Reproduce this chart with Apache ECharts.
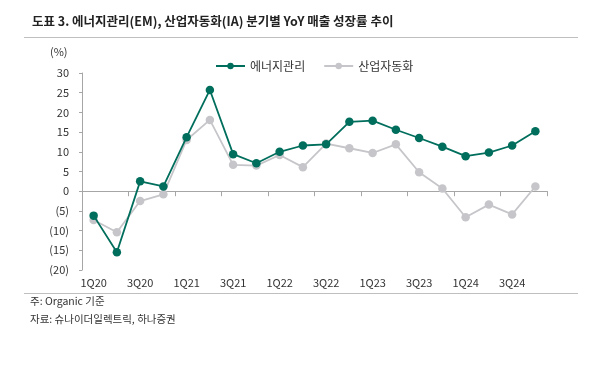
<!DOCTYPE html>
<html>
<head>
<meta charset="utf-8">
<script src="https://cdn.jsdelivr.net/npm/echarts@6/dist/echarts.min.js"></script>
<style>html,body{margin:0;padding:0;background:#fff;}#c{width:607px;height:382px;}</style>
</head>
<body>
<div id="c"></div>
<script>
const titleText = '도표 3. 에너지관리(EM), 산업자동화(IA) 분기별 YoY 매출 성장률 추이';
const noteLines = ['주: Organic 기준', '자료: 슈나이더일렉트릭, 하나증권'];
const unitLabel = '(%)';
const categories = ['1Q20','2Q20','3Q20','4Q20','1Q21','2Q21','3Q21','4Q21','1Q22','2Q22','3Q22','4Q22','1Q23','2Q23','3Q23','4Q23','1Q24','2Q24','3Q24','4Q24'];
const seriesNames = ['에너지관리', '산업자동화'];
const emValues = [-6.2, -15.5, 2.5, 1.2, 13.7, 25.7, 9.4, 7.1, 10.0, 11.6, 11.9, 17.6, 17.9, 15.6, 13.5, 11.3, 8.9, 9.8, 11.6, 15.2];
const iaValues = [-7.3, -10.4, -2.5, -0.8, 13.0, 18.1, 6.7, 6.5, 9.2, 6.1, 12.1, 10.9, 9.7, 11.9, 4.8, 0.7, -6.6, -3.4, -5.9, 1.2];
const yTicks = [-20, -15, -10, -5, 0, 5, 10, 15, 20, 25, 30];

const font = '"Noto Sans CJK KR", "Noto Sans", sans-serif';
const chart = echarts.init(document.getElementById('c'), null, {renderer: 'canvas'});
const fmtY = v => v < 0 ? '(' + Math.abs(v) + ')' : String(v);

chart.setOption({
  animation: false,
  textStyle: {fontFamily: font},
  grid: {left: 82, right: 60, top: 73, bottom: 112, containLabel: false},
  legend: {
    data: seriesNames,
    left: 210, top: 55,
    itemWidth: 29, itemHeight: 8, itemGap: 18,
    textStyle: {fontSize: 12, color: '#333', fontFamily: font}
  },
  xAxis: [{
    type: 'category', data: categories, boundaryGap: true,
    axisLine: {show: true, onZero: true, lineStyle: {color: '#a6a6a6', width: 1}},
    axisTick: {show: true, length: 5, inside: false, alignWithLabel: false, lineStyle: {color: '#a6a6a6'}},
    axisLabel: {show: false}, splitLine: {show: false}
  }, {
    type: 'category', data: categories, boundaryGap: true, position: 'bottom',
    axisLine: {show: false, onZero: false}, axisTick: {show: false},
    axisLabel: {show: true, interval: 1, margin: 7, fontSize: 11, color: '#333', fontFamily: font},
    splitLine: {show: false}
  }],
  yAxis: {
    type: 'value', min: yTicks[0], max: yTicks[yTicks.length - 1], interval: 5,
    axisLine: {show: true, lineStyle: {color: '#a6a6a6'}},
    axisTick: {show: true, length: 3, lineStyle: {color: '#a6a6a6'}},
    axisLabel: {formatter: fmtY, margin: 13, fontSize: 11, color: '#333', fontFamily: font},
    splitLine: {show: false}
  },
  series: [{
    name: seriesNames[0], type: 'line', data: emValues, xAxisIndex: 0,
    symbol: 'circle', symbolSize: 8.5, z: 3,
    lineStyle: {color: '#006e5c', width: 1.8},
    itemStyle: {color: '#006e5c'}
  }, {
    name: seriesNames[1], type: 'line', data: iaValues, xAxisIndex: 0,
    symbol: 'circle', symbolSize: 8.5, z: 2,
    lineStyle: {color: '#c6c6ca', width: 1.8},
    itemStyle: {color: '#c6c6ca'}
  }],
  graphic: [
    {type: 'text', left: 32, top: 15, style: {text: titleText, font: 'bold 12.5px ' + font, fill: '#222'}},
    {type: 'line', shape: {x1: 24, y1: 37.5, x2: 578, y2: 37.5}, style: {stroke: '#bfbfbf', lineWidth: 1}},
    {type: 'text', left: 50, top: 46, style: {text: unitLabel, font: '11px ' + font, fill: '#333'}},
    {type: 'line', shape: {x1: 24, y1: 293.5, x2: 578, y2: 293.5}, style: {stroke: '#bfbfbf', lineWidth: 1}},
    {type: 'text', left: 30, top: 296, style: {text: noteLines[0], font: '10.5px ' + font, fill: '#333'}},
    {type: 'text', left: 30, top: 314, style: {text: noteLines[1], font: '10.5px ' + font, fill: '#333'}}
  ]
});
</script>
</body>
</html>
